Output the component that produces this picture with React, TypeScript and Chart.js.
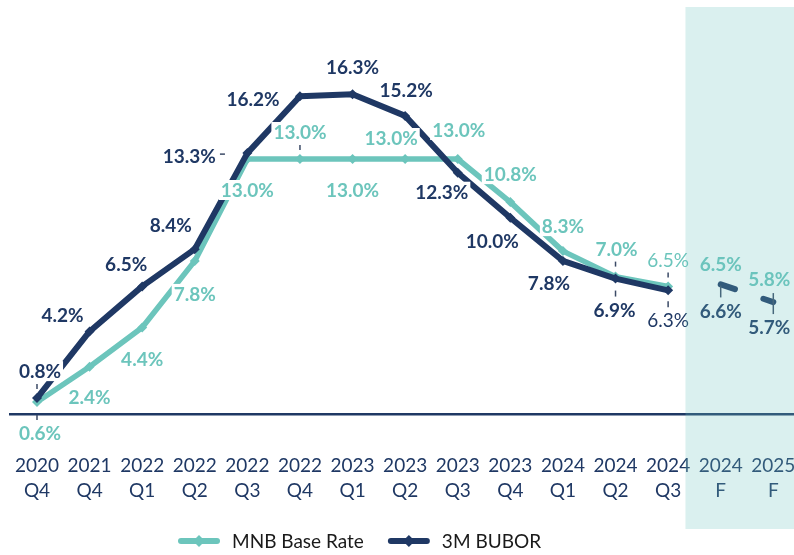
import React, { useEffect, useRef } from "react";
import { Chart, registerables } from "chart.js";

Chart.register(...registerables);

// ---------- data ----------
const categories: string[][] = [
  ["2020", "Q4"], ["2021", "Q4"], ["2022", "Q1"], ["2022", "Q2"], ["2022", "Q3"],
  ["2022", "Q4"], ["2023", "Q1"], ["2023", "Q2"], ["2023", "Q3"], ["2023", "Q4"],
  ["2024", "Q1"], ["2024", "Q2"], ["2024", "Q3"], ["2024", "F"], ["2025", "F"],
];
const mnbActual = [0.6, 2.4, 4.4, 7.8, 13.0, 13.0, 13.0, 13.0, 13.0, 10.8, 8.3, 7.0, 6.5, null, null];
const mnbForecast = [null, null, null, null, null, null, null, null, null, null, null, null, null, 6.5, 5.8];
const buborActual = [0.8, 4.2, 6.5, 8.4, 13.3, 16.2, 16.3, 15.2, 12.3, 10.0, 7.8, 6.9, 6.3, null, null];
const buborForecast = [null, null, null, null, null, null, null, null, null, null, null, null, null, 6.6, 5.7];
const seriesNames = ["MNB Base Rate", "3M BUBOR"];

// ---------- styles ----------
const NAVY = "#1F3864";
const TEAL = "#6CC5BC";
const FONT = "Lato";
const CANVAS_W = 800;
const CANVAS_H = 555;

// label offsets (style, px relative to point)
const mnbLabelOffsets = [[3, 31], [0, 30], [0, 31], [0, 33], [0, 31], [0, -27], [0, 31], [-14, -21], [1, -29], [0, -28], [0, -25], [1, -28], [0, -27], [0, -23], [-4, -21]];
const buborLabelOffsets = [[3, -27], [-27, -17], [-16, -23], [-24, -24], [-58, 3], [-47, 3], [0, -27], [1, -26], [-16, 19], [-18, 23], [-14, 22], [-1, 31], [0, 30], [0, 26], [-4, 25]];
const mnbLeaders = [5, 0, 0, 0, 0, 5, 0, 0, 0, 0, 0, 5, 5, 0, 0];
const buborLeaders = [5, 0, 0, 0, 5, 0, 0, 0, 0, 0, 0, 6, 6, 12, 21];
const normalWeightIndex = 12;

function fmt(v: number) {
  return v.toFixed(1) + "%";
}

const labelPlugin = {
  id: "customLabels",
  afterDatasetsDraw(chart: any) {
    const ctx = chart.ctx as CanvasRenderingContext2D;
    const groups = [
      { ds: [0, 1], offsets: buborLabelOffsets, leaders: buborLeaders, color: NAVY },
      { ds: [2, 3], offsets: mnbLabelOffsets, leaders: mnbLeaders, color: TEAL },
    ];
    ctx.save();
    ctx.textAlign = "center";
    ctx.textBaseline = "middle";
    for (const g of groups) {
      for (const di of g.ds) {
        const meta = chart.getDatasetMeta(di);
        const data = chart.data.datasets[di].data as (number | null)[];
        data.forEach((v, i) => {
          if (v === null || v === undefined) return;
          const pt = meta.data[i];
          const [dx, dy] = g.offsets[i];
          const cx = pt.x + dx;
          const cy = pt.y + dy;
          const weight = i === normalWeightIndex ? "normal" : "bold";
          ctx.font = `${weight} 19px ${FONT}`;
          const text = fmt(v);
          const w = ctx.measureText(text).width;
          const h = 20;
          const bx = cx - w / 2 - 2;
          const by = cy - h / 2;
          ctx.fillStyle = "#ffffff";
          ctx.fillRect(bx, by, w + 4, h);
          ctx.fillStyle = g.color;
          ctx.fillText(text, cx, cy + 1);
          const len = g.leaders[i];
          if (len) {
            ctx.strokeStyle = "#3b4a66";
            ctx.lineWidth = 1.5;
            ctx.beginPath();
            if (Math.abs(dy) >= Math.abs(dx)) {
              const dir = dy > 0 ? -1 : 1; // from label toward point
              const edge = dy > 0 ? by : by + h;
              const y1 = edge + dir * 3;
              ctx.moveTo(pt.x, y1);
              ctx.lineTo(pt.x, y1 + dir * len);
            } else {
              const dir = dx > 0 ? -1 : 1;
              const edge = dx > 0 ? bx : bx + w + 4;
              const x1 = edge + dir * 2;
              ctx.moveTo(x1, pt.y + 1);
              ctx.lineTo(x1 + dir * len, pt.y + 1);
            }
            ctx.stroke();
          }
        });
      }
    }
    ctx.restore();
  },
  afterDraw(chart: any) {
    const ctx = chart.ctx as CanvasRenderingContext2D;
    const xs = chart.scales.x;
    // forecast band overlay
    const p12 = xs.getPixelForValue(12);
    const p13 = xs.getPixelForValue(13);
    const bandLeft = p12 + (p13 - p12) * 0.33;
    ctx.save();
    ctx.fillStyle = "rgba(108,197,190,0.25)";
    ctx.fillRect(bandLeft, 7, chart.width - bandLeft, 522);
    ctx.restore();

    // legend
    ctx.save();
    ctx.font = `19px ${FONT}`;
    ctx.textBaseline = "middle";
    ctx.textAlign = "left";
    const ly = 541;
    let x = 178;
    const items = [
      { name: seriesNames[0], color: TEAL },
      { name: seriesNames[1], color: NAVY },
    ];
    for (const it of items) {
      ctx.strokeStyle = it.color;
      ctx.lineWidth = 6;
      ctx.lineCap = "round";
      ctx.beginPath();
      ctx.moveTo(x + 3, ly);
      ctx.lineTo(x + 39, ly);
      ctx.stroke();
      ctx.fillStyle = it.color;
      ctx.beginPath();
      const mx = x + 21;
      ctx.moveTo(mx, ly - 6);
      ctx.lineTo(mx + 6, ly);
      ctx.lineTo(mx, ly + 6);
      ctx.lineTo(mx - 6, ly);
      ctx.closePath();
      ctx.fill();
      ctx.fillStyle = "#1a1a1a";
      ctx.fillText(it.name, x + 54, ly + 1);
      x += 54 + ctx.measureText(it.name).width + 24;
    }
    ctx.restore();
  },
};

export default function App() {
  const ref = useRef<HTMLCanvasElement | null>(null);
  useEffect(() => {
    if (!ref.current) return;
    const chart = new Chart(ref.current, {
      type: "line",
      data: {
        labels: categories,
        datasets: [
          {
            label: seriesNames[1],
            data: buborActual,
            borderColor: NAVY,
            backgroundColor: NAVY,
            borderWidth: 6,
            borderJoinStyle: "round",
            pointStyle: "rectRot",
            pointRadius: 5,
            pointBorderWidth: 0,
            pointBackgroundColor: NAVY,
            spanGaps: false,
          },
          {
            label: seriesNames[1] + " F",
            data: buborForecast,
            borderColor: NAVY,
            borderWidth: 6,
            borderDash: [15, 30],
            borderCapStyle: "round",
            pointRadius: 0,
          },
          {
            label: seriesNames[0],
            data: mnbActual,
            borderColor: TEAL,
            backgroundColor: TEAL,
            borderWidth: 5.5,
            borderJoinStyle: "round",
            pointStyle: "rectRot",
            pointRadius: 5,
            pointBorderWidth: 0,
            pointBackgroundColor: TEAL,
            spanGaps: false,
          },
          {
            label: seriesNames[0] + " F",
            data: mnbForecast,
            showLine: false,
            pointRadius: 0,
            borderColor: TEAL,
          },
        ],
      } as any,
      options: {
        responsive: false,
        animation: false,
        devicePixelRatio: 1,
        layout: { autoPadding: false, padding: { left: 10.7, right: 0.4, top: 21.8, bottom: 0 } },
        plugins: { legend: { display: false }, tooltip: { enabled: false } },
        scales: {
          x: {
            offset: true,
            grid: { display: false, drawTicks: false },
            border: { display: true, color: NAVY, width: 2.5 },
            ticks: {
              color: NAVY,
              font: { family: FONT, size: 19, lineHeight: "25px" },
              padding: 39.7,
              maxRotation: 0,
              autoSkip: false,
            },
            afterFit: (s: any) => {
              s.height = 141.2;
              s.paddingLeft = 0;
              s.paddingRight = 0;
            },
          },
          y: { display: false, min: 0, max: 20 },
        },
      } as any,
      plugins: [labelPlugin],
    });
    return () => chart.destroy();
  }, []);
  return (
    <div style={{ position: "fixed", left: 0, top: 0, width: CANVAS_W, height: CANVAS_H, background: "#fff", overflow: "hidden" }}>
      <canvas ref={ref} width={CANVAS_W} height={CANVAS_H} style={{ display: "block", width: CANVAS_W, height: CANVAS_H }} />
    </div>
  );
}
